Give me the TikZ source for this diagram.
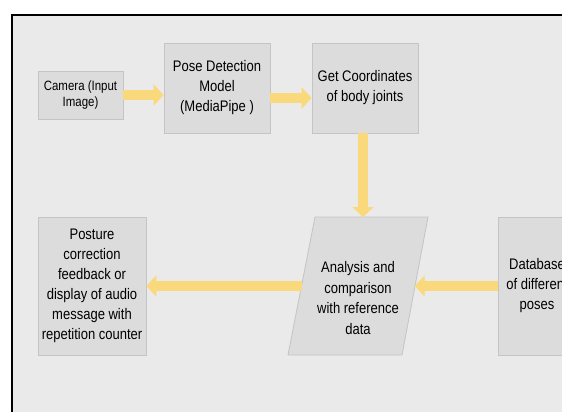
\documentclass[tikz,border=0pt]{standalone}
\usepackage{fontspec}
\setmainfont{Liberation Sans}[FakeStretch=0.85]
\usetikzlibrary{arrows.meta}
\definecolor{bgc}{HTML}{EAEAEA}
\definecolor{boxfill}{HTML}{DCDCDC}
\definecolor{boxline}{HTML}{C4C4C4}
\definecolor{arr}{HTML}{F9D97B}
\begin{document}
\begin{tikzpicture}[x=1pt,y=-1pt,
  box/.style={draw=boxline, fill=boxfill, line width=0.8pt, align=center, inner sep=0pt,
    font=\fontsize{15.3}{20}\selectfont},
  bigarrow/.style={draw=arr, line width=10pt, -{Triangle[length=10pt,width=21pt]}},
]
\useasboundingbox (0,0) rectangle (562,412);
\clip (0,0) rectangle (562,412);
\fill[white] (0,0) rectangle (562,412);
\draw[fill=bgc, line width=2pt] (12,15) rectangle (600,450);

\node[box, minimum width=85pt, minimum height=48pt, font=\fontsize{13.5}{15.5}\selectfont] (cam) at (80.5,95) {Camera (Input\\Image)};
\node[box, minimum width=106pt, minimum height=90pt] (pose) at (217,88) {Pose Detection\\Model\\(MediaPipe )};
\node[box, minimum width=106pt, minimum height=90pt] (coord) at (365,88) {Get Coordinates\\of body joints};
\node[box, minimum width=108pt, minimum height=138pt] (post) at (92,286) {Posture\\correction\\feedback or\\display of audio\\message with\\repetition counter};
\node[box, minimum width=78pt, minimum height=138pt] (db) at (537,286) {Database\\of different\\poses};

\coordinate (pTL) at (315,217);
\coordinate (pTR) at (428,217);
\coordinate (pBR) at (402,355);
\coordinate (pBL) at (288,355);
\draw[draw=boxline, fill=boxfill, line width=0.8pt] (pTL) -- (pTR) -- (pBR) -- (pBL) -- cycle;
\node[align=center, inner sep=0pt, font=\fontsize{15.3}{20.5}\selectfont] (ana) at (358,298) {Analysis and\\comparison\\with reference\\data};
\coordinate (ptop) at (363,217);
\coordinate (pleft) at (301.5,286);
\coordinate (pright) at (414.7,286);

\draw[bigarrow] (cam.east) -- (cam.east -| pose.west);
\draw[bigarrow] ([yshift=-10pt]pose.east) -- ([yshift=-10pt]coord.west);
\draw[bigarrow] (coord.south -| ptop) -- (ptop);
\draw[bigarrow] (db.west) -- (pright);
\draw[bigarrow] (pleft) -- (post.east);
\end{tikzpicture}
\end{document}
